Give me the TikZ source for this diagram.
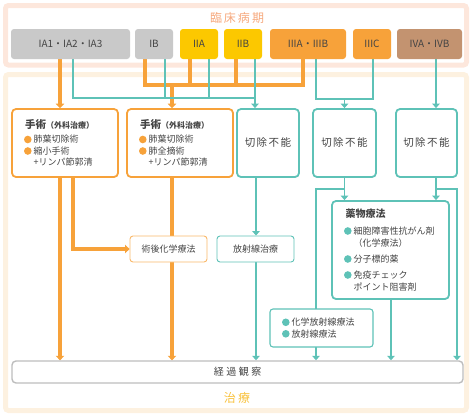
\documentclass[tikz,border=0pt]{standalone}
\usepackage{fontspec}
\setmainfont{Noto Sans CJK JP}
\usetikzlibrary{arrows.meta}

\definecolor{ksorange}{HTML}{F7A23A}
\definecolor{ksteal}{HTML}{5EC2B7}
\definecolor{ksgray}{HTML}{C9C9C9}
\definecolor{ksyellow}{HTML}{FCC800}
\definecolor{ksbrown}{HTML}{C39370}
\definecolor{kstext}{HTML}{444444}
\definecolor{kspanelA}{HTML}{FDE7DC}
\definecolor{kspanelB}{HTML}{FDF1E0}
\definecolor{kstitleA}{HTML}{F6A97E}
\definecolor{kstitleB}{HTML}{F8C13C}
\definecolor{ksline}{HTML}{BDBDBD}

\newcommand\obul{\tikz[baseline=-3.4pt]\fill[ksorange] (3.8pt,0pt) circle (3.8pt);\hspace{2pt}}
\newcommand\tbul{\tikz[baseline=-3.4pt]\fill[ksteal] (3.8pt,0pt) circle (3.8pt);\hspace{2pt}}
\newcommand\bulgap{\hspace{9.6pt}}
\newcommand\gap[1][1.5pt]{\hspace{#1}}

\pgfdeclarelayer{bg}
\pgfsetlayers{bg,main}

\begin{document}
\begin{tikzpicture}[x=1pt,y=-1pt,
    stage/.style={rounded corners=3pt, minimum height=30pt, inner sep=0pt,
        text=kstext, font=\fontsize{10}{12}\selectfont},
    surgbox/.style={draw=ksorange, line width=1.8pt, rounded corners=4pt, fill=white,
        minimum height=68pt, inner xsep=12pt, text width=82pt, align=left,
        text=kstext, font=\fontsize{9}{11.5}\selectfont},
    nrbox/.style={draw=ksteal, line width=1.8pt, rounded corners=4pt, fill=white,
        minimum height=68pt, inner sep=0pt, text=kstext, font=\fontsize{10.5}{12}\selectfont},
    smallbox/.style={line width=0.9pt, rounded corners=3pt, fill=white,
        minimum width=77pt, minimum height=26pt, inner sep=0pt,
        text=kstext, font=\fontsize{9}{11}\selectfont},
    oline/.style={draw=ksorange, line width=3.2pt},
    oarrow/.style={oline, -{Triangle[width=8.5pt,length=4.5pt]}},
    tline/.style={draw=ksteal, line width=1.6pt},
    tarrow/.style={tline, -{Triangle[width=7.5pt,length=4.5pt]}}]
\useasboundingbox (0,0) rectangle (474,418);

% panels
\begin{pgfonlayer}{bg}
    \draw[kspanelA, line width=5pt, rounded corners=3pt] (5.5,5.5) rectangle (466.5,65);
    \draw[kspanelB, line width=5pt, rounded corners=3pt] (5.5,74.5) rectangle (466.5,410.5);
\end{pgfonlayer}
\node[text=kstitleA, font=\fontsize{12}{14}\selectfont] (stagehead) at (237,18) {臨\gap[2pt]床\gap[2pt]病\gap[2pt]期};
\node[text=kstitleB, font=\fontsize{12}{14}\selectfont] (treathead) at (237,398) {治\gap[2.5pt]療};

% clinical stages
\node[stage, fill=ksgray, minimum width=119pt] (ia) at (70.5,44) {IA1・IA2・IA3};
\node[stage, fill=ksgray, minimum width=38pt] (ib) at (154,44) {IB};
\node[stage, fill=ksyellow, minimum width=38pt] (iia) at (199,44) {IIA};
\node[stage, fill=ksyellow, minimum width=38pt] (iib) at (243,44) {IIB};
\node[stage, fill=ksorange, minimum width=76pt] (iiiab) at (308,44) {IIIA・IIIB};
\node[stage, fill=ksorange, minimum width=38pt] (iiic) at (372,44) {IIIC};
\node[stage, fill=ksbrown, minimum width=65pt] (ivab) at (429.5,44) {IVA・IVB};

% first treatment
\node[surgbox] (surg1) at (65,143) {{\bfseries\fontsize{10.5}{12}\selectfont\hspace{1pt}手術{\fontsize{8}{10}\selectfont（外科治療）}}\\[3pt]
    \obul 肺葉切除術\\ \obul 縮小手術\\ \bulgap+リンパ節郭清};
\node[surgbox] (surg2) at (180,143) {{\bfseries\fontsize{10.5}{12}\selectfont\hspace{1pt}手術{\fontsize{8}{10}\selectfont（外科治療）}}\\[3pt]
    \obul 肺葉切除術\\ \obul 肺全摘術\\ \bulgap+リンパ節郭清};
\node[nrbox, minimum width=62pt] (nr1) at (268,143) {切\gap 除\gap 不\gap 能};
\node[nrbox, minimum width=63pt] (nr2) at (344.5,143) {切\gap 除\gap 不\gap 能};
\node[nrbox, minimum width=61pt] (nr3) at (426.5,143) {切\gap 除\gap 不\gap 能};

% further treatment
\node[smallbox, draw=ksorange!75] (postop) at (168.5,249) {術後化学療法};
\node[smallbox, draw=ksteal] (radio) at (255.5,249) {放射線治療};
\node[draw=ksteal, line width=1.8pt, rounded corners=4pt, fill=white, minimum height=98pt,
    inner xsep=12pt, text width=93pt, align=left, text=kstext,
    font=\fontsize{9}{12}\selectfont] (drug) at (390.5,250)
    {{\bfseries\fontsize{10}{12}\selectfont\hspace{1.5pt}薬物療法}\\[5pt]
    \tbul 細胞障害性抗がん剤\\ \bulgap（化学療法）\\[4pt]
    \tbul 分子標的薬\\[4pt]
    \tbul 免疫チェック\\ \bulgap ポイント阻害剤};
\node[draw=ksteal, line width=1.1pt, rounded corners=3pt, fill=white, minimum height=38pt,
    inner xsep=12pt, text width=79pt, align=left, text=kstext,
    font=\fontsize{9}{11.5}\selectfont] (chemrad) at (321.5,328)
    {\tbul 化学放射線療法\\ \tbul 放射線療法};
\node[draw=ksline, line width=1.4pt, rounded corners=4pt, fill=white, minimum width=451pt,
    minimum height=22pt, inner sep=0pt, text=kstext,
    font=\fontsize{10}{12}\selectfont] (follow) at (237.5,372) {経\gap[2.5pt]過\gap[2.5pt]観\gap[2.5pt]察};

\coordinate (tbusA) at (255,98);
\coordinate (obus) at (172,85);
\coordinate (tbusB) at (344.5,99);
\coordinate (nrsplit) at (0,189);

\begin{pgfonlayer}{bg}
    % orange: surgery routes
    \draw[oarrow] (ia.south -| 60,0) -- (surg1.north -| 60,0);
    \draw[oline] (ib.south -| 145,0) |- (obus -| 303,0) -- (iiiab.south -| 303,0);
    \foreach \n/\x in {iia/190,iib/236}
        \draw[oline] (\n.south -| \x,0) -- (obus -| \x,0);
    \draw[oarrow] (obus) -- (surg2.north -| obus);
    \draw[oarrow] (surg1.south -| 60,0) -- (follow.north -| 60,0);
    \draw[oarrow] (surg1.south -| 73,0) |- (postop.west);
    \draw[oarrow] (surg2.south -| 172,0) -- (follow.north -| 172,0);

    % teal: non-surgical routes
    \draw[tline] (ia.south -| 73,0) |- (tbusA);
    \foreach \n/\x in {ib/165,iia/209}
        \draw[tline] (\n.south -| \x,0) -- (tbusA -| \x,0);
    \draw[tarrow] (iib.south -| 255,0) -- (nr1.north -| 255,0);
    \draw[tline] (iiiab.south -| 316,0) |- (tbusB) -| (iiic.south -| 373,0);
    \draw[tarrow] (tbusB) -- (nr2.north);
    \draw[tarrow] (ivab.south -| 436,0) -- (nr3.north -| 436,0);
    \draw[tarrow] (nr1.south -| 256,0) -- (radio.north -| 256,0);
    \draw[tarrow] (radio.south -| 256,0) -- (follow.north -| 256,0);
    \draw[tarrow] (nr2.south) -- (drug.north -| nr2.south);
    \draw[tarrow] (nr3.south -| 436,0) -- (drug.north -| 436,0);
    \draw[tarrow] (nr2.south |- nrsplit) -| (follow.north -| 316,0);
    \draw[tarrow] (nrsplit -| 436,0) -| (follow.north -| 457,0);
    \draw[tarrow] (drug.south -| 391,0) -- (follow.north -| 391,0);
\end{pgfonlayer}
\end{tikzpicture}
\end{document}
